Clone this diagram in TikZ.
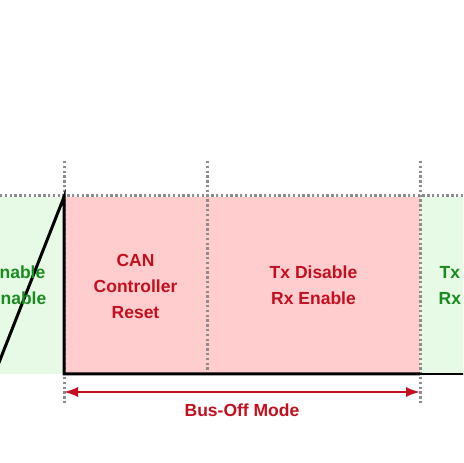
\documentclass[tikz,border=0pt]{standalone}
\usepackage{fontspec}
\setmainfont{Liberation Sans}
\usetikzlibrary{arrows.meta,positioning}

\definecolor{okfill}{RGB}{230,250,230}
\definecolor{offfill}{RGB}{255,205,205}
\definecolor{oktext}{RGB}{25,140,30}
\definecolor{offtext}{RGB}{195,15,30}
\definecolor{dotgray}{RGB}{140,140,140}

\begin{document}
\begin{tikzpicture}[x=1pt, y=1pt,
  lbl/.style={font=\fontsize{17.5}{26}\selectfont\bfseries, align=center, inner sep=0pt},
  tick/.style={draw=dotgray, line width=3pt, dash pattern=on 2.4pt off 2.4pt},
  sig/.style={line width=3pt, line join=miter},
  span/.style={{Latex[length=14pt, width=10pt]}-{Latex[length=14pt, width=10pt]}, offtext, line width=2pt}]
  \useasboundingbox (0,0) rectangle (463,463);
  \clip (0,0) rectangle (463,463);

  % time marks
  \coordinate (t1) at (64,89);
  \coordinate (t2) at (207,89);
  \coordinate (t3) at (420,89);

  % phases
  \fill[okfill]  (-30,89) rectangle (64,266);
  \fill[offfill] (64,89)  rectangle (420,266);
  \fill[okfill]  (420,89) rectangle (500,266);

  % guides
  \draw[tick] (0,267) -- (463,267);
  \draw[tick] (64,302)  -- (64,58);
  \draw[tick] (207,302) -- (207,93);
  \draw[tick] (420,302) -- (420,58);

  % error counter
  \draw[sig] (-5.5,89) -- (64,266) -- (t1) -- (t3);
  \draw[line width=1.6pt] (t3) -- (470,89);

  \node[lbl, text=oktext]  (okA)   at (4,177.5)     {Tx Enable\\Rx Enable};
  \node[lbl, text=offtext] (reset) at (135.5,177)   {CAN\\Controller\\Reset};
  \node[lbl, text=offtext] (txoff) at (313.5,177.5) {Tx Disable\\Rx Enable};
  \node[lbl, text=oktext]  (okB)   at (481,177.5)   {Tx Enable\\Rx Enable};

  \coordinate (a0) at (64,71);
  \coordinate (a1) at (420,71);
  \draw[span] (a0) -- (a1);
  \node[lbl, text=offtext] (busoff) at (242,53) {Bus-Off Mode};
\end{tikzpicture}
\end{document}
